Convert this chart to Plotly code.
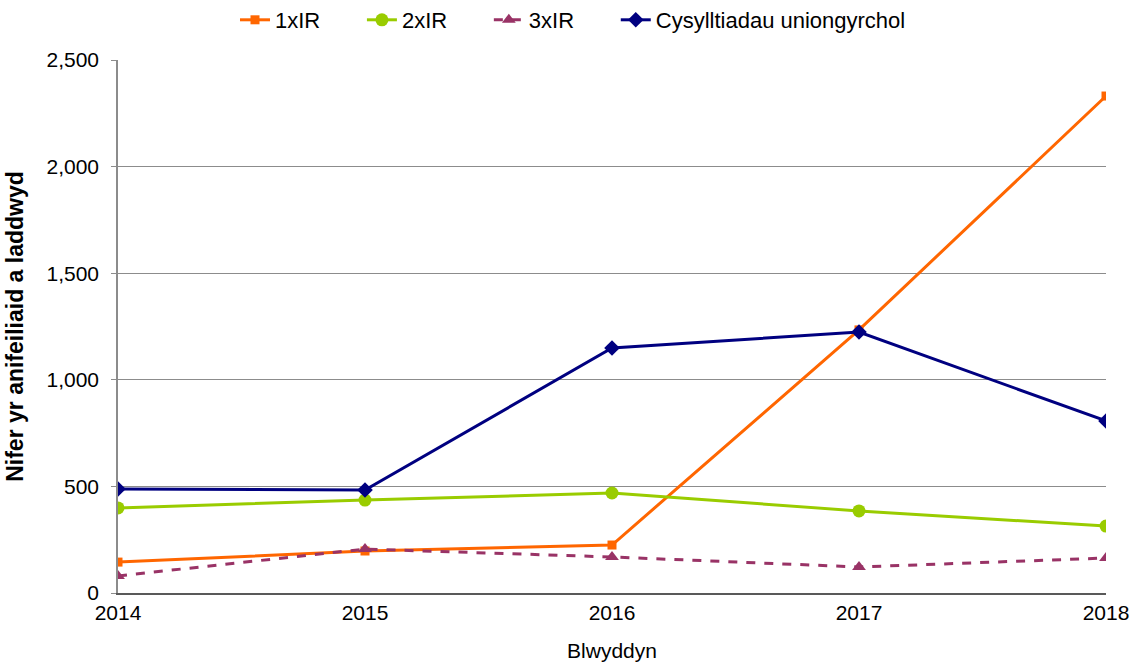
import plotly.graph_objects as go

years = [2014, 2015, 2016, 2017, 2018]
ir1 = [145, 197, 225, 1234, 2331]
ir2 = [399, 436, 469, 385, 314]
ir3 = [80, 206, 169, 122, 164]
direct = [488, 483, 1149, 1224, 807]
names = ["1xIR", "2xIR", "3xIR", "Cysylltiadau uniongyrchol"]

FONT = "Liberation Sans, Arial, sans-serif"
PAD = "\u00a0" * 6  # extra spacing between legend entries

fig = go.Figure()
fig.add_trace(go.Scatter(x=years, y=ir1, name=names[0] + PAD, mode="lines+markers",
                         line=dict(color="#FF6600", width=3),
                         marker=dict(symbol="square", size=9)))
fig.add_trace(go.Scatter(x=years, y=ir2, name=names[1] + PAD, mode="lines+markers",
                         line=dict(color="#99CC00", width=3),
                         marker=dict(symbol="circle", size=13)))
fig.add_trace(go.Scatter(x=years, y=ir3, name=names[2] + PAD, mode="lines+markers",
                         line=dict(color="#993366", width=3, dash="dash"),
                         marker=dict(symbol="triangle-up", size=12)))
fig.add_trace(go.Scatter(x=years, y=direct, name=names[3], mode="lines+markers",
                         line=dict(color="#000080", width=3),
                         marker=dict(symbol="diamond", size=12)))

W, H = 1132, 665
fig.update_layout(
    width=W, height=H,
    margin=dict(l=118, r=26, t=60, b=72, autoexpand=False),
    paper_bgcolor="white", plot_bgcolor="white",
    font=dict(family=FONT, size=21, color="#000000"),
    legend=dict(orientation="h", x=(573 - 118) / 988, xanchor="center", yref="container",
                y=1 - 20 / H, yanchor="middle", font=dict(size=22),
                traceorder="normal"),
    showlegend=True,
)
fig.update_xaxes(range=[2014, 2018], tickvals=years, ticktext=[str(y) for y in years],
                 showgrid=False, showline=True, linecolor="#595959", linewidth=1.5,
                 ticks="", automargin=False,
                 title=dict(text="Blwyddyn", font=dict(size=21), standoff=20),
                 tickfont=dict(size=21))
fig.update_yaxes(range=[0, 2500], tickvals=[0, 500, 1000, 1500, 2000, 2500],
                 tickformat=",", showgrid=True, gridcolor="#8c8c8c", gridwidth=1,
                 showline=True, linecolor="#8c8c8c", linewidth=1.5,
                 ticks="outside", ticklen=5, tickcolor="#8c8c8c",
                 ticklabelstandoff=8,
                 zeroline=False, automargin=False,
                 title=dict(text="<b>Nifer yr anifeiliaid a laddwyd</b>", font=dict(size=23), standoff=16),
                 tickfont=dict(size=21))

fig.write_html(
    "out.html",
    config={"displayModeBar": False},
    post_script="document.body.style.margin='0';document.body.style.overflow='hidden';",
)
